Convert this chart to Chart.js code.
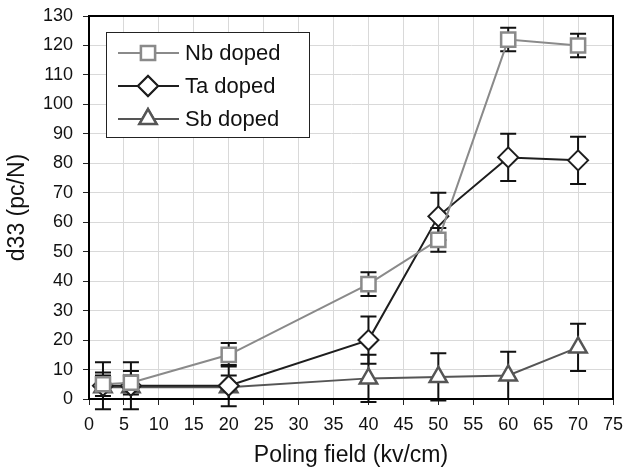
<!DOCTYPE html>
<html>
<head>
<meta charset="utf-8">
<script src="https://cdn.jsdelivr.net/npm/chart.js@4"></script>
<style>
  html, body { margin: 0; padding: 0; background: #fff; }
  #wrap { width: 629px; height: 469px; }
</style>
</head>
<body>
<div id="wrap"><canvas id="chart" width="629" height="469"></canvas></div>
<script>
// poling field values (kv/cm)
const fields = [2, 6, 20, 40, 50, 60, 70];

// d33 values and +/- errors per dopant
const nbValues = [5, 5.5, 15, 39, 54, 122, 120];
const nbErrors = [4, 4, 4, 4, 4, 4, 4];
const taValues = [4.5, 4.5, 4.5, 20, 62, 82, 81];
const taErrors = [8, 8, 7, 8, 8, 8, 8];
const sbValues = [4, 4, 4, 7, 7.5, 8, 17.5];
const sbErrors = [4, 4, 4, 8, 8, 8, 8];

const seriesLabels = ['Nb doped', 'Ta doped', 'Sb doped'];

const xTicks = { min: 0, max: 75, step: 5 };
const yTicks = { min: 0, max: 130, step: 10 };

function points(vals) {
    return fields.map((x, i) => ({ x: x, y: vals[i] }));
}

const FONT = 'Liberation Sans, Arial, Helvetica, sans-serif';

// error bars, drawn under the lines and markers
const errorBars = {
    id: 'errorBars',
    beforeDatasetsDraw(chart) {
        const ctx = chart.ctx;
        const xs = chart.scales.x, ys = chart.scales.y;
        ctx.save();
        ctx.strokeStyle = '#111';
        ctx.lineWidth = 2;
        chart.data.datasets.forEach(ds => {
            ds.data.forEach((p, i) => {
                const e = ds.errors[i];
                const px = xs.getPixelForValue(p.x);
                const top = ys.getPixelForValue(p.y + e);
                const bot = ys.getPixelForValue(p.y - e);
                ctx.beginPath();
                ctx.moveTo(px, top); ctx.lineTo(px, bot);
                ctx.moveTo(px - 8, top); ctx.lineTo(px + 8, top);
                ctx.moveTo(px - 8, bot); ctx.lineTo(px + 8, bot);
                ctx.stroke();
            });
        });
        ctx.restore();
    }
};

// frame around the plot and the boxed legend
const frameLegend = {
    id: 'frameLegend',
    afterDraw(chart) {
        const ctx = chart.ctx;
        const a = chart.chartArea;
        ctx.save();
        ctx.strokeStyle = '#000';
        ctx.lineWidth = 2;
        ctx.strokeRect(a.left, a.top, a.right - a.left, a.bottom - a.top);

        // legend box
        const bx = 106, by = 32, bw = 203, bh = 105;
        ctx.fillStyle = '#fff';
        ctx.fillRect(bx, by, bw, bh);
        ctx.lineWidth = 1;
        ctx.strokeStyle = '#222';
        ctx.strokeRect(bx + 0.5, by + 0.5, bw, bh);

        chart.data.datasets.forEach((ds, i) => {
            const y = 53 + i * 33;
            ctx.strokeStyle = ds.borderColor;
            ctx.lineWidth = 2;
            ctx.beginPath();
            ctx.moveTo(118, y); ctx.lineTo(179, y);
            ctx.stroke();
            Chart.helpers.drawPoint(ctx, {
                pointStyle: ds.pointStyle,
                radius: ds.pointRadius,
                borderWidth: ds.pointBorderWidth,
                rotation: 0
            }, 148, y);
            ctx.fillStyle = '#fff';
            ctx.strokeStyle = ds.pointBorderColor;
            ctx.lineWidth = ds.pointBorderWidth;
            ctx.fill();
            ctx.stroke();
            ctx.fillStyle = '#111';
            ctx.font = '22px ' + FONT;
            ctx.textBaseline = 'middle';
            ctx.textAlign = 'left';
            ctx.fillText(ds.label, 185, y + 1);
        });
        ctx.restore();
    }
};

new Chart(document.getElementById('chart'), {
    type: 'scatter',
    data: {
        datasets: [
            {
                label: seriesLabels[0],
                data: points(nbValues),
                errors: nbErrors,
                showLine: true,
                borderColor: '#8a8a8a',
                borderWidth: 2,
                pointStyle: 'rect',
                pointRadius: 10,
                pointBorderWidth: 2.5,
                pointBorderColor: '#8a8a8a',
                pointBackgroundColor: '#fff'
            },
            {
                label: seriesLabels[1],
                data: points(taValues),
                errors: taErrors,
                showLine: true,
                borderColor: '#1e1e1e',
                borderWidth: 2,
                pointStyle: 'rectRot',
                pointRadius: 10,
                pointBorderWidth: 2,
                pointBorderColor: '#1e1e1e',
                pointBackgroundColor: '#fff'
            },
            {
                label: seriesLabels[2],
                data: points(sbValues),
                errors: sbErrors,
                showLine: true,
                borderColor: '#555',
                borderWidth: 2,
                pointStyle: 'triangle',
                pointRadius: 10,
                pointBorderWidth: 2.5,
                pointBorderColor: '#555',
                pointBackgroundColor: '#fff'
            }
        ]
    },
    options: {
        responsive: false,
        animation: false,
        layout: { padding: { top: 16, right: 16, left: 0, bottom: 0 } },
        plugins: {
            legend: { display: false },
            tooltip: { enabled: false }
        },
        scales: {
            x: {
                type: 'linear',
                min: xTicks.min,
                max: xTicks.max,
                ticks: { stepSize: xTicks.step, color: '#111', font: { family: FONT, size: 18 }, padding: 9, maxRotation: 0 },
                grid: { color: '#d9d9d9', lineWidth: 1, tickColor: '#222', tickLength: 6 },
                border: { color: '#000', width: 2 },
                title: { display: true, text: 'Poling field (kv/cm)', color: '#111', font: { family: FONT, size: 23 }, padding: { top: 6, bottom: 0 } },
                afterFit(s) { s.height = 70; s.paddingLeft = 0; s.paddingRight = 0; }
            },
            y: {
                min: yTicks.min,
                max: yTicks.max,
                ticks: { stepSize: yTicks.step, color: '#111', font: { family: FONT, size: 18 }, padding: 10 },
                grid: { color: '#d9d9d9', lineWidth: 1, tickColor: '#222', tickLength: 6 },
                border: { color: '#000', width: 2 },
                title: { display: true, text: 'd33 (pc/N)', color: '#111', font: { family: FONT, size: 23 }, padding: { bottom: 4 } },
                afterFit(s) { s.width = 89; s.paddingTop = 0; s.paddingBottom = 0; }
            }
        }
    },
    plugins: [errorBars, frameLegend]
});
</script>
</body>
</html>
